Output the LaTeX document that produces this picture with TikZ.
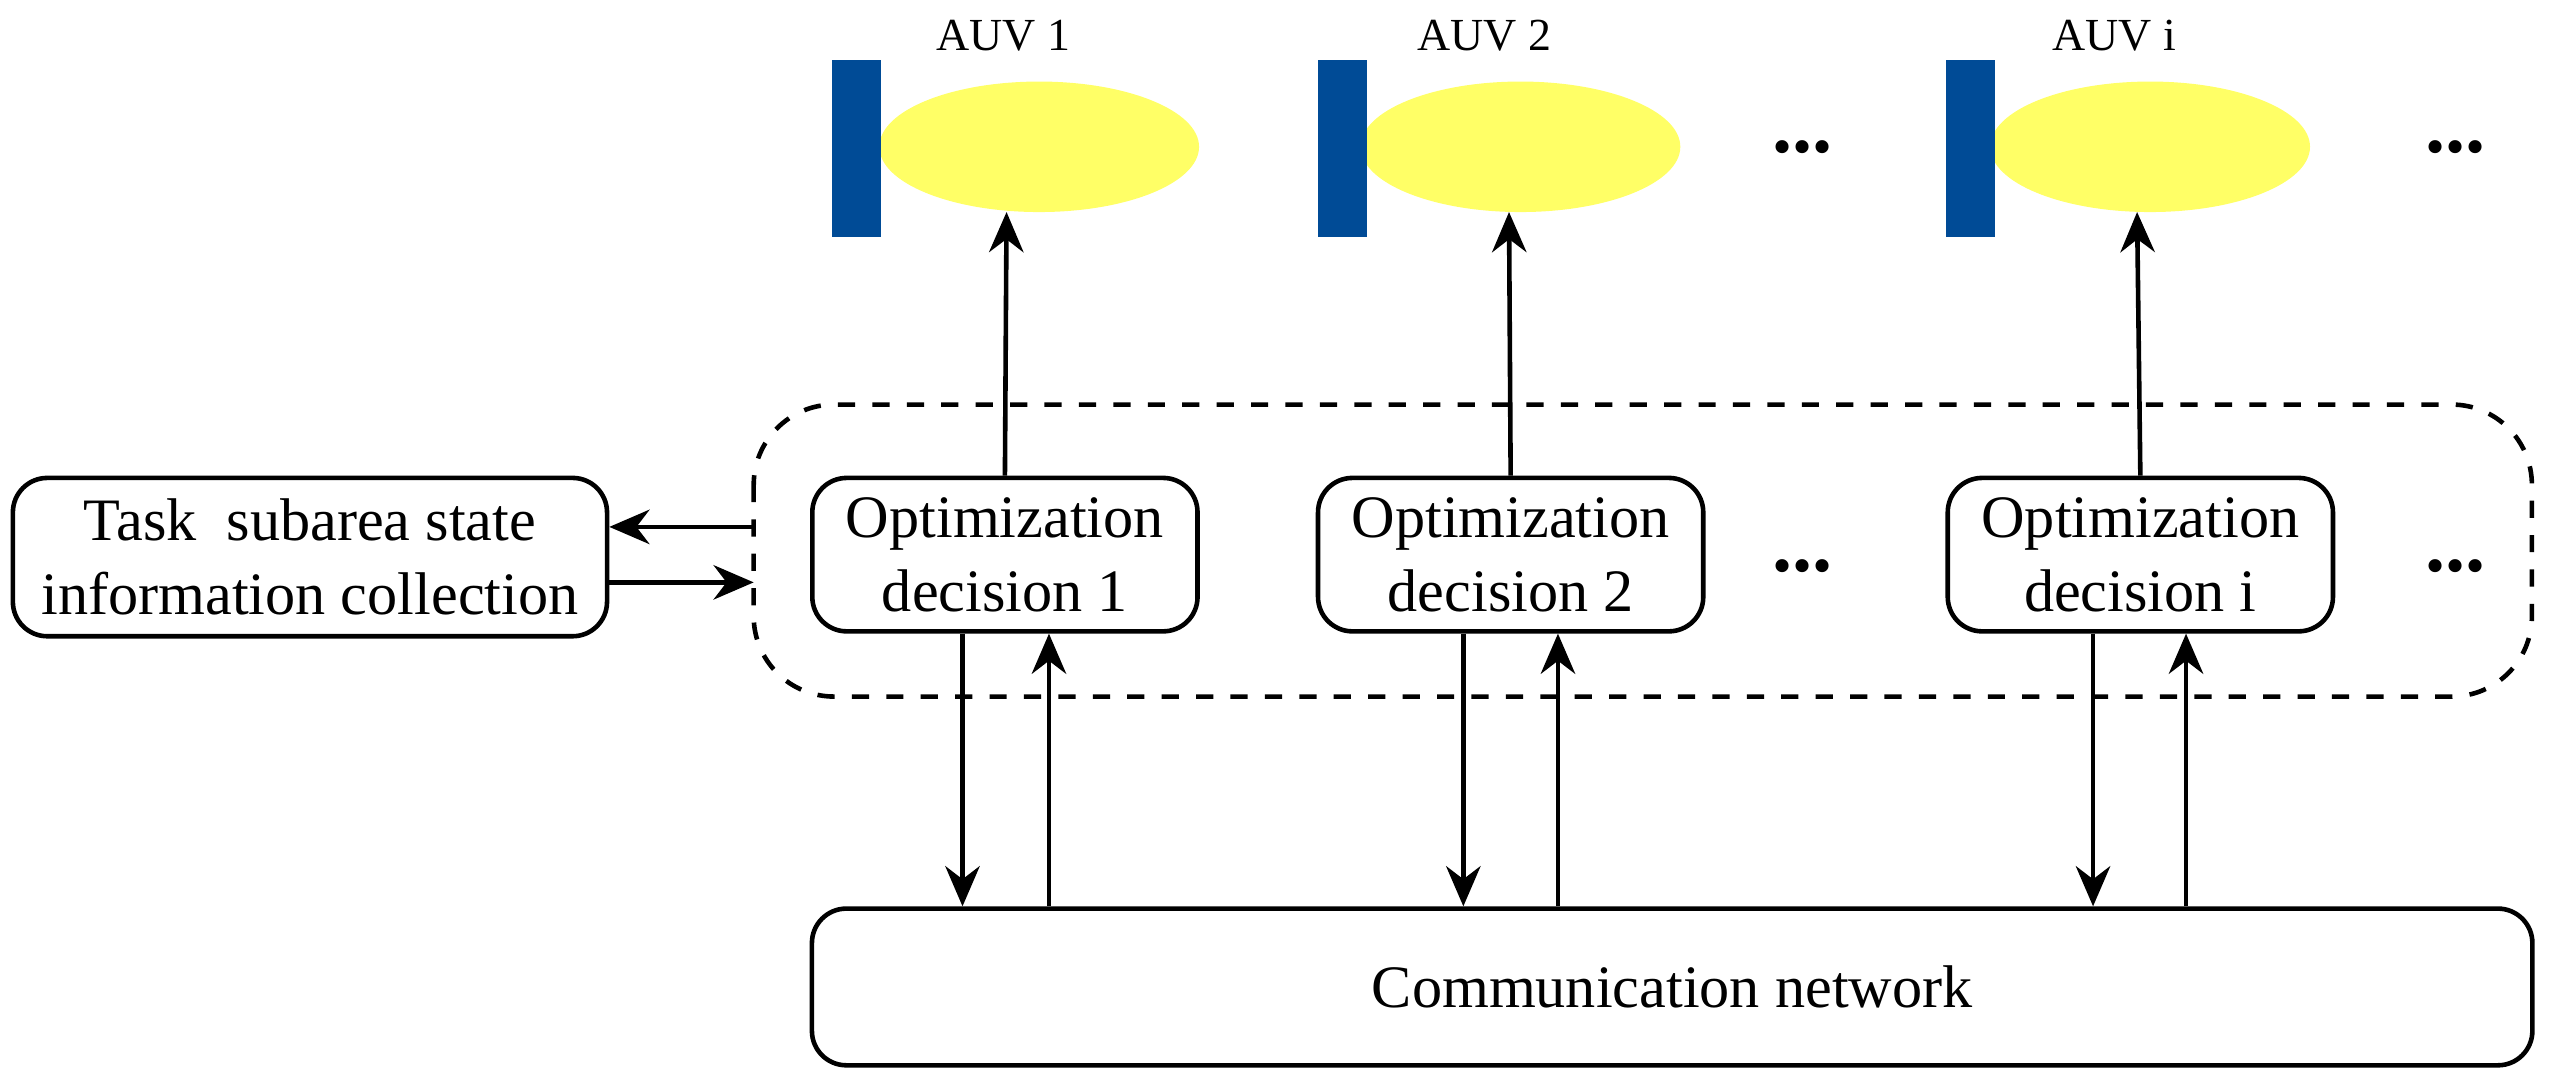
\documentclass[tikz,border=0pt]{standalone}
\usepackage{fontspec}
\setmainfont{Liberation Serif}
\usetikzlibrary{arrows.meta}
\begin{document}
\begin{tikzpicture}[x=0.01cm,y=-0.01cm,
  box/.style={draw,rounded corners=6pt,line width=0.8pt,align=center,font=\fontsize{10.5}{13}\selectfont,inner sep=0pt},
  arr/.style={-{Stealth[length=7pt,width=6pt]},line width=0.8pt},
  dots/.style={font=\bfseries\fontsize{14}{14}\selectfont}]
\useasboundingbox (0,0) rectangle (1568,668);
\definecolor{auvb}{RGB}{0,75,150}
\definecolor{auvy}{RGB}{255,255,102}
% AUVs
\foreach \n/\rx/\cx/\lab in {a1/510/637/AUV 1, a2/808/932/AUV 2, a3/1193/1318/AUV i}{
  \fill[auvy] (\cx,90) ellipse [x radius=98, y radius=40];
  \fill[auvb] (\rx,37) rectangle +(30,108);
  \node[font=\fontsize{8}{9}\selectfont] at (\cx-22,22) {\lab};
}
\coordinate (e1) at (617,130);
\coordinate (e2) at (925,130);
\coordinate (e3) at (1310,130);
\node[dots] (d1) at (1105,90) {...};
\node[dots] (d2) at (1505,90) {...};
% dashed group
\draw[dashed,rounded corners=14pt,line width=0.8pt] (462,248) rectangle (1552,427);
\coordinate (gl1) at (462,323);
\coordinate (gl2) at (462,357);
% boxes
\node[box,minimum width=3.64cm,minimum height=0.97cm] (task) at (190,341.5) {Task\ \ subarea state\\information collection};
\node[box,minimum width=2.36cm,minimum height=0.94cm] (o1) at (616,340) {Optimization\\decision 1};
\node[box,minimum width=2.36cm,minimum height=0.94cm] (o2) at (926,340) {Optimization\\decision 2};
\node[box,minimum width=2.36cm,minimum height=0.94cm] (o3) at (1312,340) {Optimization\\decision i};
\node[dots] (d3) at (1105,347) {...};
\node[dots] (d4) at (1505,347) {...};
\node[box,minimum width=10.54cm,minimum height=0.96cm] (cn) at (1025,605) {Communication network};
% arrows
\draw[arr] (o1.north) -- (e1);
\draw[arr] (o2.north) -- (e2);
\draw[arr] (o3.north) -- (e3);
\draw[arr] (gl1) -- (task.east |- gl1);
\draw[arr] (task.east |- gl2) -- (gl2);
\foreach \o/\d/\u in {o1/590/643, o2/897/955, o3/1283/1340}{
  \draw[arr] (\o.south -| \d,0) -- (cn.north -| \d,0);
  \draw[arr] (cn.north -| \u,0) -- (\o.south -| \u,0);
}
\end{tikzpicture}
\end{document}
